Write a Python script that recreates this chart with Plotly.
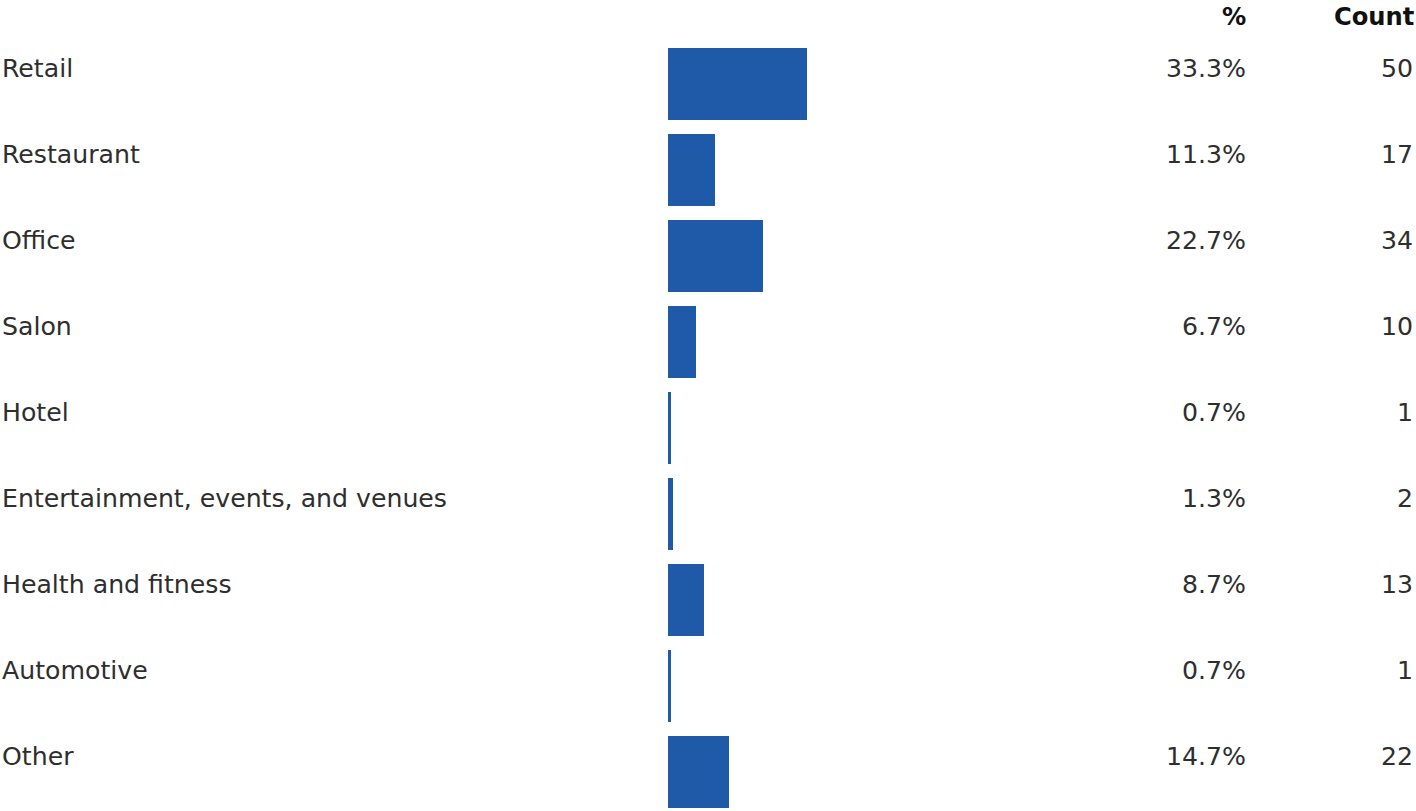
import plotly.graph_objects as go

categories = ["Retail", "Restaurant", "Office", "Salon", "Hotel",
              "Entertainment, events, and venues", "Health and fitness",
              "Automotive", "Other"]
percents = [33.3, 11.3, 22.7, 6.7, 0.7, 1.3, 8.7, 0.7, 14.7]
counts = [50, 17, 34, 10, 1, 2, 13, 1, 22]
pct_labels = ["33.3%", "11.3%", "22.7%", "6.7%", "0.7%", "1.3%", "8.7%", "0.7%", "14.7%"]
headers = ["%", "Count"]

W, H = 1416, 811
BAR_X0 = 668
PX_PER_PCT = 4.17
PITCH = 86.06
FIRST_CENTER = 84
BAR_H = 72

ys = list(range(len(categories)))
y_top = -FIRST_CENTER / PITCH
y_bot = (H - FIRST_CENTER) / PITCH
text_off = 16 / PITCH

BAR_COLOR = "#1e5aa8"
TEXT_COLOR = "#2e2e2e"
FONT = "DejaVu Sans, sans-serif"
FS = 25.2

fig = go.Figure()
fig.add_trace(go.Bar(
    x=percents, y=ys, orientation="h",
    marker=dict(color=BAR_COLOR, line=dict(width=0)),
    width=BAR_H / PITCH, hoverinfo="skip", showlegend=False,
))

annotations = []
for i, cat in enumerate(categories):
    yy = i - text_off
    annotations.append(dict(x=0, xref="paper", y=yy, yref="y", text=cat,
                            showarrow=False, xanchor="left", yanchor="middle",
                            font=dict(size=FS, color=TEXT_COLOR, family=FONT)))
    annotations.append(dict(x=1248 / W, xref="paper", y=yy, yref="y", text=pct_labels[i],
                            showarrow=False, xanchor="right", yanchor="middle",
                            font=dict(size=FS, color=TEXT_COLOR, family=FONT)))
    annotations.append(dict(x=1415 / W, xref="paper", y=yy, yref="y", text=str(counts[i]),
                            showarrow=False, xanchor="right", yanchor="middle",
                            font=dict(size=FS, color=TEXT_COLOR, family=FONT)))

header_y = 1 - 17 / H
for hx, htext in zip([1248, 1416], headers):
    annotations.append(dict(x=hx / W, xref="paper", y=header_y, yref="paper",
                            text="<b>" + htext + "</b>", showarrow=False,
                            xanchor="right", yanchor="middle",
                            font=dict(size=FS - 1, color="#111111", family=FONT)))

fig.update_layout(
    width=W, height=H,
    margin=dict(l=0, r=0, t=0, b=0),
    paper_bgcolor="white", plot_bgcolor="white",
    xaxis=dict(domain=[BAR_X0 / W, 1], range=[0, (W - BAR_X0) / PX_PER_PCT],
               visible=False, fixedrange=True),
    yaxis=dict(range=[y_bot, y_top], visible=False, fixedrange=True),
    annotations=annotations,
    bargap=0,
)

fig.write_html("out.html", config={"displayModeBar": False})
